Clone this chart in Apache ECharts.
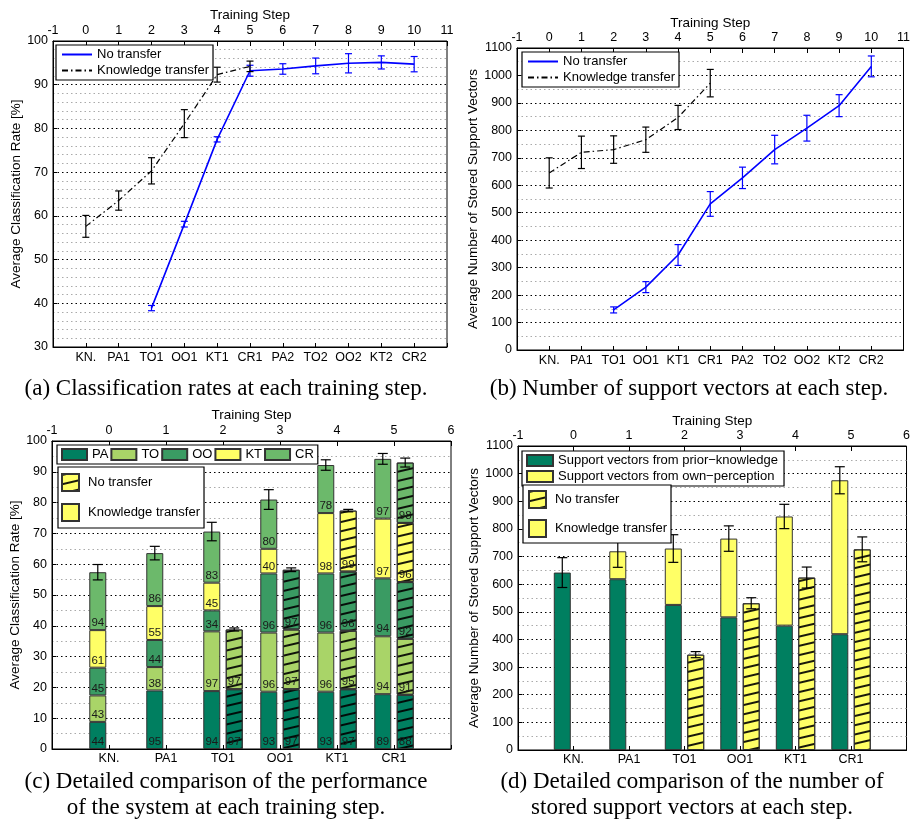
<!DOCTYPE html>
<html><head><meta charset="utf-8">
<script src="https://cdn.jsdelivr.net/npm/echarts@6/dist/echarts.min.js"></script>
<style>html,body{margin:0;padding:0;background:#fff}#c{width:913px;height:829px}</style>
</head><body><div id="c"></div>
<script>
// ---------- data ----------
const stepNamesLong = ['KN.','PA1','TO1','OO1','KT1','CR1','PA2','TO2','OO2','KT2','CR2'];
const stepNamesShort = ['KN.','PA1','TO1','OO1','KT1','CR1'];
const topTicksShort = [-1,0,1,2,3,4,5,6];

// (a) classification rate
const ktSteps = [0,1,2,3,4,5];
const rateKtMean = [57.6, 63.5, 70.3, 81.1, 92.3, 94.2];
const rateKtErr  = [2.5, 2.2, 3.0, 3.2, 1.7, 1.2];
const ntSteps = [2,3,4,5,6,7,8,9,10];
const rateNtMean = [38.9, 58.1, 77.5, 93.2, 93.6, 94.3, 94.9, 95.1, 94.7];
const rateNtErr  = [0.6, 0.65, 0.6, 1.25, 1.2, 1.8, 2.2, 1.5, 1.75];

// (b) number of support vectors
const svKtMean = [645, 720, 730, 766, 847, 972];
const svKtErr  = [55, 59, 50, 46, 44, 50];
const svNtMean = [146, 229, 346, 532, 627, 730, 808, 890, 1033];
const svNtErr  = [11, 20, 38, 45, 39, 52, 47, 40, 38];

// (c) detailed classification (segment heights per class, steps KN..CR1)
const classNames = ['PA','TO','OO','KT','CR'];
const ktPA = [8.8, 19.0, 18.8, 18.6, 18.6, 17.8];
const ktTO = [8.6, 7.6, 19.4, 19.2, 19.2, 18.8];
const ktOO = [9.0, 8.8, 6.8, 19.2, 19.2, 18.8];
const ktKT = [12.2, 11.0, 9.0, 8.0, 19.6, 19.4];
const ktCR = [18.8, 17.2, 16.6, 16.0, 15.6, 19.4];
const ktPALbl = [44, 95, 94, 93, 93, 89];
const ktTOLbl = [43, 38, 97, 96, 96, 94];
const ktOOLbl = [45, 44, 34, 96, 96, 94];
const ktKTLbl = [61, 55, 45, 40, 98, 97];
const ktCRLbl = [94, 86, 83, 80, 78, 97];
const ntPA = [null, null, 19.4, 19.4, 19.4, 17.6];
const ntTO = [null, null, 19.4, 19.4, 19.0, 18.2];
const ntOO = [null, null, null, 19.4, 19.2, 18.4];
const ntKT = [null, null, null, null, 19.8, 19.2];
const ntCR = [null, null, null, null, null, 19.6];
const ntPALbl = [null, null, 97, 97, 97, 88];
const ntTOLbl = [null, null, 97, 97, 95, 91];
const ntOOLbl = [null, null, null, 97, 96, 92];
const ntKTLbl = [null, null, null, null, 99, 96];
const ntCRLbl = [null, null, null, null, null, 98];
const detKtErr = [2.5, 2.2, 3.0, 3.2, 1.7, 1.75];
const detNtErr = [null, null, 0.5, 0.6, 0.4, 1.45];

// (d) detailed support vectors
const svPrior = [642, 618, 525, 480, 450, 419];
const svOwn   = [null, 101, 204, 285, 395, 557];
const svDetKtErr = [54, 58, 50, 46, 44, 49];
const svDetNt = [null, null, 345, 531, 624, 726];
const svDetNtErr = [null, null, 11, 20, 38, 45];

// ---------- styles ----------
const FONT = 'Liberation Sans';
const SERIF = '23px "Liberation Serif"';
const classColors = ['#007f60', '#a9d468', '#3a9b63', '#ffff66', '#6cb96b'];
const YELLOW = '#ffff66';
const BAR_W = 17;
const GAP_PCT = 0.32;
const BAR_OFF = BAR_W * (1 + GAP_PCT) / 2;
const hatch = {symbol:'rect', symbolSize:1, dashArrayX:[1,0], dashArrayY:[1.2,6.5], rotation:-0.23, color:'rgba(0,0,0,0.9)'};
const barBorder = {borderColor:'#333', borderWidth:1};

const grids = [
  {left:53, top:41, width:394, height:306},
  {left:517, top:48, width:390, height:302},
  {left:52, top:441, width:399, height:308},
  {left:518, top:446, width:393, height:304}
];

function dotted(color){ return {show:true, lineStyle:{color:color, width:1, type:[1.5,3]}}; }

function yAxis(gi, min, max, interval, minorSplit, name, nameGap){
  return {type:'value', gridIndex:gi, min:min, max:max, interval:interval,
    name:name, nameLocation:'middle', nameGap:nameGap,
    nameTextStyle:{fontFamily:FONT, fontSize:13.5, color:'#000'},
    axisLine:{show:true, onZero:false, lineStyle:{color:'#000'}},
    axisTick:{show:true, inside:true, length:4, lineStyle:{color:'#000'}},
    axisLabel:{fontFamily:FONT, fontSize:12.5, color:'#000', margin:5, formatter:function(v){ return String(v); }},
    splitLine:dotted('#000'),
    minorTick:{show:false, splitNumber:minorSplit},
    minorSplitLine:{show:true, lineStyle:{color:'#aaa', width:1, type:[1.5,3]}}
  };
}
function topAxis(gi, min, max, nameGap){
  return {type:'value', gridIndex:gi, position:'top', min:min, max:max, interval:1,
    name:'Training Step', nameLocation:'middle', nameGap:nameGap,
    nameTextStyle:{fontFamily:FONT, fontSize:13.5, color:'#000'},
    axisLine:{show:true, onZero:false, lineStyle:{color:'#000'}},
    axisTick:{show:true, inside:true, length:5, lineStyle:{color:'#000'}},
    axisLabel:{fontFamily:FONT, fontSize:12.5, color:'#000', margin:4, formatter:function(v){ return String(v); }},
    splitLine:{show:false}};
}
function bottomValueAxis(gi, min, max, names){
  return {type:'value', gridIndex:gi, position:'bottom', min:min, max:max, interval:1,
    axisLine:{show:true, onZero:false, lineStyle:{color:'#000'}},
    axisTick:{show:true, inside:true, length:4, lineStyle:{color:'#000'}},
    axisLabel:{fontFamily:FONT, fontSize:12.5, color:'#000', margin:4,
      formatter:function(v){ return names[v] !== undefined ? names[v] : ''; }},
    splitLine:{show:false}};
}
function bottomCatAxis(gi, ticks, names){
  return {type:'category', gridIndex:gi, position:'bottom', boundaryGap:false,
    data:ticks.map(String),
    axisLine:{show:true, onZero:false, lineStyle:{color:'#000'}},
    axisTick:{show:true, inside:true, length:4, interval:0, lineStyle:{color:'#000'}},
    axisLabel:{fontFamily:FONT, fontSize:12.5, color:'#000', margin:3, interval:0,
      formatter:function(v, idx){ const n = names[idx-1]; return n === undefined ? '' : n; }},
    splitLine:{show:false}};
}

function errSeries(xi, yi, xs, means, errs, color, capHalf, xOff){
  const data = [];
  xs.forEach(function(x, i){ if (means[i] != null && errs[i] != null) data.push([x, means[i], errs[i]]); });
  return {type:'custom', xAxisIndex:xi, yAxisIndex:yi, z:5, silent:true,
    encode:{x:0, y:1}, data:data,
    renderItem:function(params, api){
      const x = api.value(0), m = api.value(1), e = api.value(2);
      const hi = api.coord([x, m + e]), lo = api.coord([x, m - e]);
      const cx = hi[0] + xOff;
      const st = {stroke:color, lineWidth:1.2, fill:null};
      return {type:'group', children:[
        {type:'line', shape:{x1:cx, y1:hi[1], x2:cx, y2:lo[1]}, style:st},
        {type:'line', shape:{x1:cx-capHalf, y1:hi[1], x2:cx+capHalf, y2:hi[1]}, style:st},
        {type:'line', shape:{x1:cx-capHalf, y1:lo[1], x2:cx+capHalf, y2:lo[1]}, style:st}
      ]};
    }};
}
function pad(arr){ return ['-'].concat(arr.map(function(v){ return v == null ? '-' : v; }), ['-']); }
function catIdx(n){ const r=[]; for (let i=0;i<n;i++) r.push(i+1); return r; }

const series = [];
// (a)
series.push({name:'No transfer', type:'line', xAxisIndex:0, yAxisIndex:0, symbol:'none',
  lineStyle:{color:'#0000ff', width:1.6}, itemStyle:{color:'#0000ff'}, z:3,
  data:ntSteps.map(function(s,i){ return [s, rateNtMean[i]]; })});
series.push({name:'Knowledge transfer', type:'line', xAxisIndex:0, yAxisIndex:0, symbol:'none',
  lineStyle:{color:'#000', width:1.2, type:[6,3,1.5,3]}, itemStyle:{color:'#000'}, z:3,
  data:ktSteps.map(function(s,i){ return [s, rateKtMean[i]]; })});
series.push(errSeries(0, 0, ntSteps, rateNtMean, rateNtErr, '#0000ff', 3.5, 0));
series.push(errSeries(0, 0, ktSteps, rateKtMean, rateKtErr, '#000', 3.5, 0));
// (b)
series.push({name:'No transfer', type:'line', xAxisIndex:2, yAxisIndex:1, symbol:'none',
  lineStyle:{color:'#0000ff', width:1.6}, itemStyle:{color:'#0000ff'}, z:3,
  data:ntSteps.map(function(s,i){ return [s, svNtMean[i]]; })});
series.push({name:'Knowledge transfer', type:'line', xAxisIndex:2, yAxisIndex:1, symbol:'none',
  lineStyle:{color:'#000', width:1.2, type:[6,3,1.5,3]}, itemStyle:{color:'#000'}, z:3,
  data:ktSteps.map(function(s,i){ return [s, svKtMean[i]]; })});
series.push(errSeries(2, 1, ntSteps, svNtMean, svNtErr, '#0000ff', 3.5, 0));
series.push(errSeries(2, 1, ktSteps, svKtMean, svKtErr, '#000', 3.5, 0));

// (c)
const ktSegs = [ktPA, ktTO, ktOO, ktKT, ktCR];
const ktLbls = [ktPALbl, ktTOLbl, ktOOLbl, ktKTLbl, ktCRLbl];
const ntSegs = [ntPA, ntTO, ntOO, ntKT, ntCR];
const ntLbls = [ntPALbl, ntTOLbl, ntOOLbl, ntKTLbl, ntCRLbl];
function segLabel(lbls){
  return {show:true, position:'insideBottom', distance:1, fontFamily:FONT, fontSize:11.5, color:'#1a1a1a',
    formatter:function(p){ const v = lbls[p.dataIndex-1]; return v == null ? '' : String(v); }};
}
classNames.forEach(function(cn, k){
  series.push({name:cn, type:'bar', xAxisIndex:4, yAxisIndex:2, stack:'c_kt', barWidth:BAR_W, barGap:(GAP_PCT*100)+'%',
    itemStyle:Object.assign({color:classColors[k]}, barBorder), label:segLabel(ktLbls[k]), data:pad(ktSegs[k])});
});
classNames.forEach(function(cn, k){
  series.push({name:cn+'_nt', type:'bar', xAxisIndex:4, yAxisIndex:2, stack:'c_nt', barWidth:BAR_W, barGap:(GAP_PCT*100)+'%',
    itemStyle:Object.assign({color:classColors[k], decal:hatch}, barBorder), label:segLabel(ntLbls[k]), data:pad(ntSegs[k])});
});
series.push({name:'c_nt_leg', type:'bar', xAxisIndex:4, yAxisIndex:2, stack:'c_nt', barWidth:BAR_W,
  itemStyle:Object.assign({color:YELLOW, decal:hatch}, barBorder), data:[]});
series.push({name:'c_kt_leg', type:'bar', xAxisIndex:4, yAxisIndex:2, stack:'c_kt', barWidth:BAR_W,
  itemStyle:Object.assign({color:YELLOW}, barBorder), data:[]});
function sumStack(segs){
  return stepNamesShort.map(function(_, i){
    let s = null; segs.forEach(function(a){ if (a[i] != null) s = (s||0) + a[i]; }); return s; });
}
const idx6 = catIdx(6);
series.push(errSeries(4, 2, idx6, sumStack(ktSegs), detKtErr, '#000', 5, -BAR_OFF));
series.push(errSeries(4, 2, idx6, sumStack(ntSegs), detNtErr, '#000', 5, BAR_OFF));

// (d)
series.push({name:'Support vectors from prior\u2212knowledge', type:'bar', xAxisIndex:6, yAxisIndex:3, stack:'d_kt',
  barWidth:BAR_W, barGap:(GAP_PCT*100)+'%', itemStyle:Object.assign({color:classColors[0]}, barBorder), data:pad(svPrior)});
series.push({name:'Support vectors from own\u2212perception', type:'bar', xAxisIndex:6, yAxisIndex:3, stack:'d_kt',
  barWidth:BAR_W, barGap:(GAP_PCT*100)+'%', itemStyle:Object.assign({color:YELLOW}, barBorder), data:pad(svOwn)});
series.push({name:'d_nt', type:'bar', xAxisIndex:6, yAxisIndex:3, stack:'d_nt',
  barWidth:BAR_W, barGap:(GAP_PCT*100)+'%', itemStyle:Object.assign({color:YELLOW, decal:hatch}, barBorder), data:pad(svDetNt)});
series.push({name:'d_kt_leg', type:'bar', xAxisIndex:6, yAxisIndex:3, stack:'d_kt', barWidth:BAR_W,
  itemStyle:Object.assign({color:YELLOW}, barBorder), data:[]});
const svTotal = svPrior.map(function(p, i){ return p + (svOwn[i] || 0); });
series.push(errSeries(6, 3, idx6, svTotal, svDetKtErr, '#000', 5, -BAR_OFF));
series.push(errSeries(6, 3, idx6, svDetNt, svDetNtErr, '#000', 5, BAR_OFF));

const legendNames = {c_nt_leg:'No transfer', c_kt_leg:'Knowledge transfer', d_nt:'No transfer', d_kt_leg:'Knowledge transfer'};
function legendBox(extra){
  return Object.assign({selectedMode:false, backgroundColor:'#fff', borderColor:'#000', borderWidth:1.2,
    textStyle:{fontFamily:FONT, fontSize:13, color:'#000'}, z:10,
    formatter:function(n){ return legendNames[n] || n; }}, extra);
}
function capText(x, y, text){
  return {type:'text', x:x, y:y, z:20, style:{text:text, font:SERIF, lineHeight:26, fill:'#000',
    align:'center', verticalAlign:'middle', textAlign:'center', textVerticalAlign:'middle'}};
}

const option = {
  animation:false,
  backgroundColor:'#fff',
  grid:grids.map(function(g){ return Object.assign({show:true, borderColor:'#000', borderWidth:1, backgroundColor:'transparent', containLabel:false}, g); }),
  xAxis:[
    bottomValueAxis(0, -1, 11, stepNamesLong), topAxis(0, -1, 11, 19),
    bottomValueAxis(1, -1, 11, stepNamesLong), topAxis(1, -1, 11, 18),
    bottomCatAxis(2, topTicksShort, stepNamesShort), topAxis(2, -1, 6, 19),
    bottomCatAxis(3, topTicksShort, stepNamesShort), topAxis(3, -1, 6, 17)
  ],
  yAxis:[
    yAxis(0, 30, 100, 10, 5, 'Average Classification Rate [%]', 30),
    yAxis(1, 0, 1100, 100, 2, 'Average Number of Stored Support Vectors', 33),
    yAxis(2, 0, 100, 10, 2, 'Average Classification Rate [%]', 28),
    yAxis(3, 0, 1100, 100, 2, 'Average Number of Stored Support Vectors', 34)
  ],
  legend:[
    legendBox({left:56, top:45, orient:'vertical', itemWidth:30, itemHeight:12, itemGap:3, padding:[3,4,3,5],
      itemStyle:{opacity:0}, data:['No transfer','Knowledge transfer']}),
    legendBox({left:522, top:52, orient:'vertical', itemWidth:30, itemHeight:12, itemGap:3, padding:[3,4,3,5],
      itemStyle:{opacity:0}, data:['No transfer','Knowledge transfer']}),
    legendBox({left:57, top:445, orient:'horizontal', icon:'rect', itemWidth:25, itemHeight:11, itemGap:2, padding:[3,4,3,4],
      data:classNames}),
    legendBox({left:58, top:467, orient:'vertical', icon:'rect', itemWidth:17, itemHeight:17, itemGap:11, padding:[6,4,6,3],
      textStyle:{fontFamily:FONT, fontSize:13, color:'#000', padding:[0,0,0,4]},
      data:['c_nt_leg','c_kt_leg']}),
    legendBox({left:522, top:451, orient:'vertical', icon:'rect', itemWidth:26, itemHeight:11, itemGap:3, padding:[3,6,3,4],
      data:['Support vectors from prior\u2212knowledge','Support vectors from own\u2212perception']}),
    legendBox({left:523, top:485, orient:'vertical', icon:'rect', itemWidth:17, itemHeight:17, itemGap:10, padding:[5,4,5,5],
      textStyle:{fontFamily:FONT, fontSize:13, color:'#000', padding:[0,0,0,4]},
      data:['d_nt','d_kt_leg']})
  ],
  graphic:[
    capText(226, 389, '(a) Classification rates at each training step.'),
    capText(689, 389, '(b) Number of support vectors at each step.'),
    capText(226, 795, '(c) Detailed comparison of the performance\nof the system at each training step.'),
    capText(692, 795, '(d) Detailed comparison of the number of\nstored support vectors at each step.')
  ],
  series:series
};
const chart = echarts.init(document.getElementById('c'));
chart.setOption(option);
</script>
</body></html>
